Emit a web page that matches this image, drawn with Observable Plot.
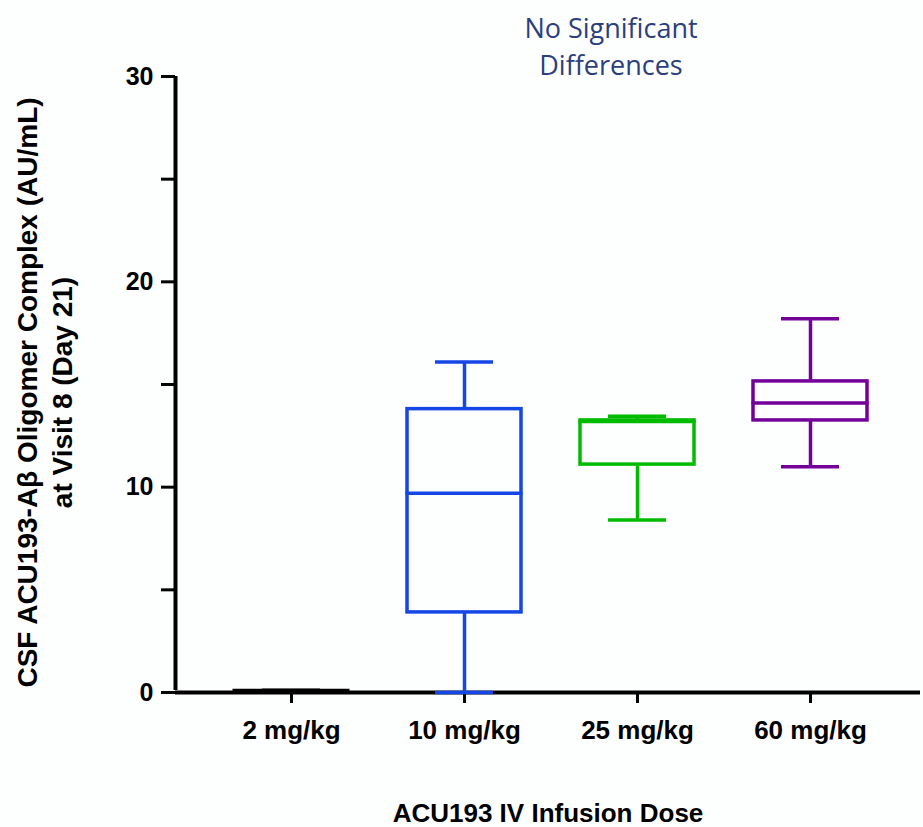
<!DOCTYPE html>
<html>
<head>
<meta charset="utf-8">
<script src="https://cdn.jsdelivr.net/npm/d3@7"></script>
<script src="https://cdn.jsdelivr.net/npm/@observablehq/plot@0.6"></script>
<style>
  html, body { margin: 0; padding: 0; background: #fdfefe; }
  #chart svg { display: block; }
</style>
</head>
<body>
<div id="chart"></div>
<script>
// Data (AU/mL)
const doses   = ["2 mg/kg", "10 mg/kg", "25 mg/kg", "60 mg/kg"];
const colors  = ["#000000", "#1447e6", "#00bb00", "#720099"];
const minV    = [0.1, 0.0, 8.4, 11.0];
const q1V     = [0.1, 3.9, 11.1, 13.25];
const medianV = [0.1, 9.7, 13.2, 14.1];
const q3V     = [0.1, 13.8, 13.25, 15.15];
const maxV    = [0.1, 16.1, 13.45, 18.2];
const yTicks  = [0, 5, 10, 15, 20, 25, 30];
const yLabels = ["0", "", "10", "", "20", "", "30"];
const yTitle  = ["CSF ACU193-Aβ Oligomer Complex (AU/mL)", "at Visit 8 (Day 21)"];
const xTitle  = "ACU193 IV Infusion Dose";
const note    = "No Significant\nDifferences";

const data = doses.map((d, i) => ({
  dose: d, min: minV[i], q1: q1V[i], median: medianV[i], q3: q3V[i], max: maxV[i]
}));

const font = "'Liberation Sans', Arial, Helvetica, sans-serif";
const sw = 3.5;

const plot = Plot.plot({
  width: 923,
  height: 827,
  marginLeft: 175,
  marginRight: 3,
  marginTop: 76,
  marginBottom: 135,
  style: { fontFamily: font, background: "#fdfefe", color: "#000" },
  x: { type: "band", domain: doses, range: [175, 926], padding: 0.34, label: null },
  y: { domain: [0, 30], label: null },
  color: { domain: doses, range: colors },
  marks: [
    // axes lines
    Plot.ruleY([0], { stroke: "#000", strokeWidth: 4 }),
    Plot.ruleX(["2 mg/kg"], { y1: 0, y2: 30, dx: -116, stroke: "#000", strokeWidth: 4, insetTop: -2 }),
    Plot.axisY({
      ticks: yTicks,
      tickFormat: (d) => yLabels[yTicks.indexOf(d)],
      tickSize: 14,
      tickPadding: 8,
      strokeWidth: 3,
      fontSize: 25,
      fontWeight: "bold",
      label: null
    }),
    Plot.axisX({
      tickSize: 11,
      tickPadding: 17,
      strokeWidth: 3,
      fontSize: 26,
      fontWeight: "bold",
      letterSpacing: 0.7,
      label: null
    }),
    // whiskers
    Plot.ruleX(data, { x: "dose", y1: "min", y2: "q1", stroke: "dose", strokeWidth: sw }),
    Plot.ruleX(data, { x: "dose", y1: "q3", y2: "max", stroke: "dose", strokeWidth: sw }),
    Plot.tickY(data, { x: "dose", y: "min", stroke: "dose", strokeWidth: sw, insetLeft: 28, insetRight: 28 }),
    Plot.tickY(data, { x: "dose", y: "max", stroke: "dose", strokeWidth: sw, insetLeft: 28, insetRight: 28 }),
    // boxes
    Plot.barY(data, { x: "dose", y1: "q1", y2: "q3", fill: "#fdfefe", stroke: "dose", strokeWidth: sw }),
    Plot.tickY(data, { x: "dose", y: "median", stroke: "dose", strokeWidth: sw, insetLeft: -1.5, insetRight: -1.5 }),
    // titles
    Plot.text([yTitle.join("\n")], {
      frameAnchor: "left", textAnchor: "middle", lineAnchor: "middle",
      dx: -132, dy: 8, rotate: -90, lineHeight: 1.25,
      fontSize: 28, fontWeight: "bold", fill: "#000"
    }),
    Plot.text([xTitle], {
      frameAnchor: "bottom", dy: 129, fontSize: 26, fontWeight: "bold", letterSpacing: 0.5, fill: "#000"
    }),
    Plot.text([note], {
      frameAnchor: "top", lineAnchor: "middle", dx: 63, dy: -32, lineHeight: 1.4,
      fontSize: 27, fontFamily: "'Open Sans', Lato, sans-serif", fill: "#2b3f7c"
    })
  ]
});

document.getElementById("chart").appendChild(plot);
</script>
</body>
</html>
